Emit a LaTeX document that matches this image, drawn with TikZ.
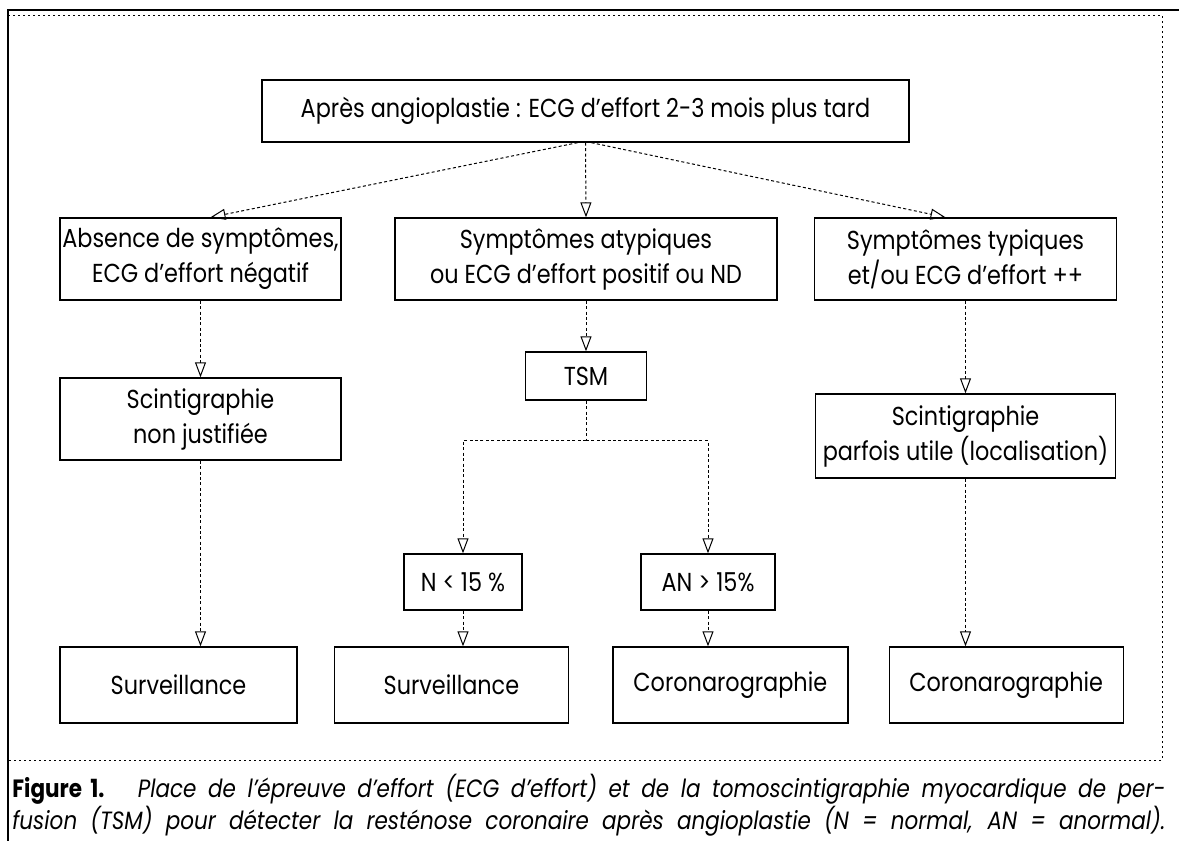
\documentclass[tikz,border=0pt]{standalone}
\usepackage{fontspec}
\setmainfont{Poppins}[FakeStretch=0.86]
\newfontfamily\capitalic{Poppins}[FakeStretch=0.86]
\usepackage{tikz}
\usetikzlibrary{positioning}
\usetikzlibrary{arrows.meta}
\newcommand\boxfont{\fontsize{13}{17.5}\selectfont}
\newcommand\capfont{\fontsize{12.5}{15}\selectfont}
\tikzset{
  block/.style={draw=black,line width=0.7pt,align=center,inner sep=0pt,font=\boxfont},
  boxsize/.style 2 args={minimum width=#1*0.5pt,minimum height=#2*0.5pt},
  flowline/.style={draw=black,line width=0.5pt,dash pattern=on 1.5pt off 1.2pt},
  flow/.style={flowline,-{Triangle[open,length=7.5pt,width=5.5pt]}},
  frame/.style={draw=black,line width=1pt},
  innerframe/.style={draw=black,line width=0.4pt,dash pattern=on 1pt off 1.5pt}
}

\begin{document}
\begin{tikzpicture}[x=0.5pt,y=-0.5pt]
    \useasboundingbox (0,0) rectangle (1179,841);
    \draw[frame] (8,841) -- (8,10) -- (1179,10);
    \draw[innerframe] (8,15) -- (1162,15) -- (1162,760) -- (8,760);

    \node[block,boxsize={647}{62}] (top) at (585.5,111) {Après angioplastie : ECG d’effort 2-3 mois plus tard};

    \node[block,boxsize={281}{82}] (A) at (200.5,259) {Absence de symptômes,\\ECG d’effort négatif};
    \node[block,boxsize={382}{82}] (B) at (586,259) {Symptômes atypiques\\ou ECG d’effort positif ou ND};
    \node[block,boxsize={302}{82}] (C) at (965.5,259) {Symptômes typiques\\et/ou ECG d’effort ++};

    \node[block,boxsize={121}{48}] (TSM) at (586,376) {TSM};
    \node[block,boxsize={281}{82}] (A2) at (200.5,419) {Scintigraphie\\non justifiée};
    \node[block,boxsize={300}{84}] (C2) at (965.5,436) {Scintigraphie\\parfois utile (localisation)};

    \node[block,boxsize={118}{56}] (N) at (463,582) {N < 15 \%};
    \node[block,boxsize={134}{56}] (AN) at (708,582) {AN > 15\%};

    \node[block,boxsize={237}{76}] (S1) at (178.5,685) {Surveillance};
    \node[block,boxsize={234}{76},right=18pt of S1] (S2) {Surveillance};
    \node[block,boxsize={235}{76},right=21.5pt of S2] (Co1) {Coronarographie};
    \node[block,boxsize={234}{76},right=20pt of Co1] (Co2) {Coronarographie};

    \draw[flow] ([xshift=-4pt]top.south) -- ([xshift=5pt]A.north);
    \draw[flow] (top.south) -- (B.north);
    \draw[flow] ([xshift=3pt]top.south) -- ([xshift=-10pt]C.north);
    \draw[flow] (A.south) -- (A2.north);
    \draw[flow] (B.south) -- (TSM.north);
    \draw[flow] (C.south) -- (C2.north);
    \draw[flowline] (TSM.south) -- ++(0,40) coordinate (split);
    \draw[flow] (split) -| (N.north);
    \draw[flow] (split) -| (AN.north);
    \draw[flow] (A2.south) -- (A2.south |- S1.north);
    \draw[flow] (N.south) -- (N.south |- S2.north);
    \draw[flow] (AN.south) -- (AN.south |- Co1.north);
    \draw[flow] (C2.south) -- (C2.south |- Co2.north);

    \node[anchor=west,inner sep=0pt,font=\capfont] (cap1) at (12,789) {\makebox[576.5pt][s]{\textbf{Figure 1.}\hspace{6pt} {\capitalic\itshape Place de l’épreuve d’effort (ECG d’effort) et de la tomoscintigraphie myocardique de per-}}};
    \node[anchor=west,inner sep=0pt,font=\capfont] (cap2) at (12,821) {\makebox[576.5pt][s]{\capitalic\itshape fusion (TSM) pour détecter la resténose coronaire après angioplastie (N = normal, AN = anormal).}};
\end{tikzpicture}
\end{document}
